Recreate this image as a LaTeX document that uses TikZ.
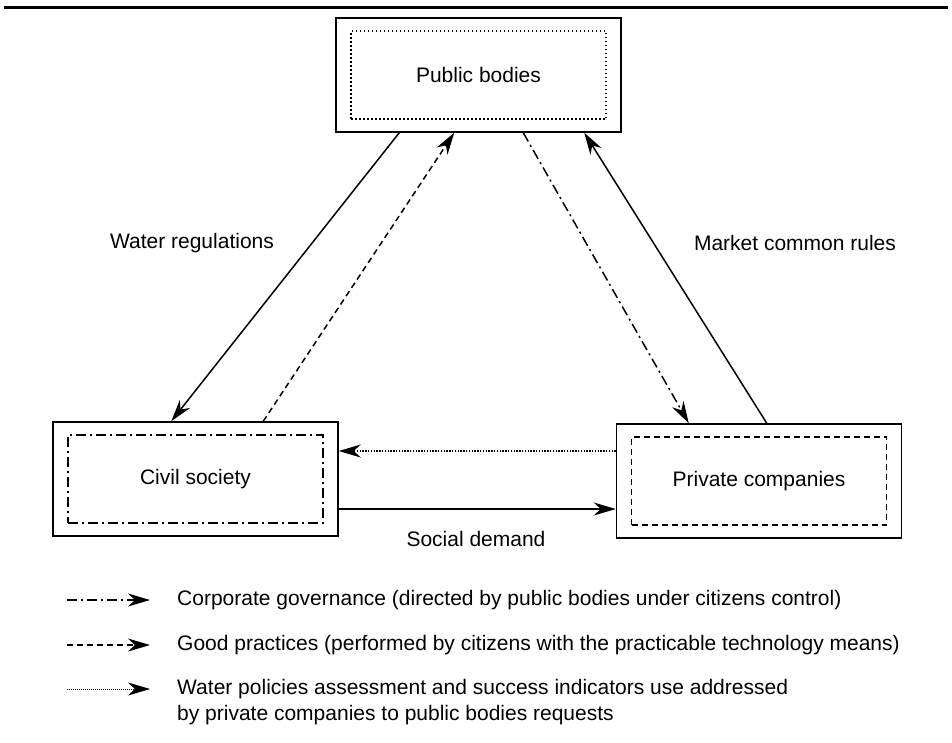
\documentclass[tikz,border=0pt]{standalone}
\usepackage{fontspec}
\setmainfont{Liberation Sans}
\usetikzlibrary{arrows.meta}

\begin{document}
\begin{tikzpicture}[x=1pt, y=-1pt, font=\fontsize{21}{26}\selectfont]
    % Define styles
    \tikzstyle{outerbox} = [rectangle, draw, line width=1.5pt, minimum width=285pt, minimum height=114pt, inner sep=0pt]
    \tikzstyle{innerbox} = [rectangle, draw, line width=1.6pt, minimum width=255pt, minimum height=88pt, inner sep=0pt]
    \tikzstyle{arrow} = [line width=1.5pt, -{Stealth[length=22pt, width=13pt, inset=7pt]}]
    \tikzstyle{dashdot} = [dash pattern=on 10pt off 4pt on 2pt off 4pt]
    \tikzstyle{dashline} = [dash pattern=on 6pt off 4pt]
    \tikzstyle{dots} = [dash pattern=on 1.5pt off 2.5pt]
    \tikzstyle{densedots} = [dash pattern=on 1.4pt off 1.4pt]
    \tikzstyle{fine} = [dash pattern=on 0.8pt off 1.2pt, line width=0.8pt]

    \useasboundingbox (0,0) rectangle (952,742);
    \draw [line width=3pt] (4,7) -- (948,7);

    % Actors
    \node [outerbox] (pb) at (478.5,75) {};
    \node [innerbox, dots] (pbin) at (pb.center) {Public bodies};
    \node [outerbox] (cs) at (195.5,479) {};
    \node [innerbox, dashdot] (csin) at (cs.center) {Civil society};
    \node [outerbox] (pc) at (759,481) {};
    \node [innerbox, dashline] (pcin) at (pc.center) {Private companies};

    % Arrows
    \draw [arrow] ([xshift=64pt]pb.south west) -- ([xshift=119pt]cs.north west);
    \draw [arrow, dashline] ([xshift=211pt]cs.north west) -- ([xshift=119pt]pb.south west);
    \draw [arrow, dashdot] ([xshift=188pt]pb.south west) -- ([xshift=73pt]pc.north west);
    \draw [arrow] ([xshift=151pt]pc.north west) -- ([xshift=249pt]pb.south west);
    \draw [arrow, densedots] ([yshift=30pt]pc.west) -- ([yshift=28pt]cs.east);
    \draw [arrow] ([yshift=-30pt]cs.east) -- ([yshift=-28pt]pc.west);

    % Labels
    \node (wr) at (192,243) {Water regulations};
    \node (mr) at (795,243) {Market common rules};
    \node (sd) at (476,539) {Social demand};

    % Legend
    \coordinate (la) at (67,600);  \coordinate (lb) at (150,600);
    \coordinate (ma) at (67,645);  \coordinate (mb) at (150,645);
    \coordinate (na) at (67,689);  \coordinate (nb) at (150,689);
    \draw [arrow, dashdot] (la) -- (lb);
    \draw [arrow, dashline] (ma) -- (mb);
    \draw [arrow, fine] (na) -- (nb);
    \node [anchor=west, inner sep=0pt] (lt) at (177,600) {Corporate governance (directed by public bodies under citizens control)};
    \node [anchor=west, inner sep=0pt] (mt) at (177,645) {Good practices (performed by citizens with the practicable technology means)};
    \node [anchor=west, inner sep=0pt, align=left] (nt) at (177,702) {Water policies assessment and success indicators use addressed\\by private companies to public bodies requests};
\end{tikzpicture}
\end{document}
